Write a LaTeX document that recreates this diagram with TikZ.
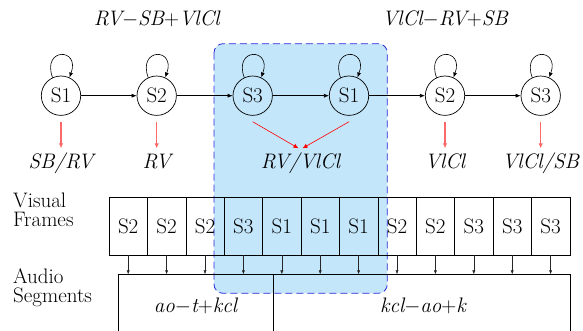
\documentclass[tikz,border=0pt]{standalone}
\usetikzlibrary{arrows.meta}
\definecolor{boxblue}{HTML}{C4E6FB}
\definecolor{dashblue}{HTML}{2A2AD8}
\definecolor{softred}{HTML}{FF6868}
\tikzset{
  state/.style={circle, draw, line width=0.7pt, minimum size=39.4pt, inner sep=0pt,
    font=\fontsize{21}{21}\selectfont},
  arr/.style={-{Latex[length=5pt,width=4pt]}, line width=0.6pt},
  looparr/.style={-{Latex[length=5pt,width=4pt]}, line width=0.6pt},
  redarr/.style={-{Latex[length=5pt,width=4.5pt]}, line width=1.1pt, softred},
  redthin/.style={-{Latex[length=5pt,width=4.5pt]}, line width=0.6pt, red},
  lab/.style={font=\fontsize{21}{21}\selectfont\itshape, inner sep=0pt,
    text height=16pt, text depth=5pt, outer sep=4pt, anchor=base},
  framebox/.style={draw, line width=0.6pt, minimum width=38.4pt, minimum height=57.7pt,
    inner sep=0pt, font=\fontsize{21}{21}\selectfont},
  segbox/.style={draw, line width=0.6pt, anchor=north west, minimum height=80pt, inner sep=0pt},
  farr/.style={-{Latex[length=4pt,width=3.2pt]}, line width=0.5pt, black!85},
  side/.style={font=\fontsize{21}{19.5}\selectfont, align=left, inner sep=0pt, anchor=base west},
  hilite/.style={fill=boxblue, draw=dashblue, line width=0.8pt, dash pattern=on 7pt off 4pt,
    rounded corners=9pt}
}
\begin{document}
\begin{tikzpicture}[x=1pt,y=1pt]
\useasboundingbox (0,0) rectangle (583,-331);
\clip (0,0) rectangle (583,-331);

% highlighted region
\path[hilite] (214,-43.7) rectangle (387.3,-293.3);

% top labels
\node[lab] (t1) at (156.7,-26) {RV$-$SB$+$VlCl};
\node[lab] (t2) at (445,-26) {VlCl$-$RV$+$SB};

% states
\node[state] (c1) at (61,-95.7) {S1};
\node[state] (c2) at (156.7,-95.7) {S2};
\node[state] (c3) at (252.7,-95.7) {S3};
\node[state] (c4) at (349,-95.7) {S1};
\node[state] (c5) at (445,-95.7) {S2};
\node[state] (c6) at (540.7,-95.7) {S3};

\foreach \c in {c1,c2,c3,c4,c5,c6}
  \draw[looparr] (\c.115) .. controls +(110:32) and +(70:32) .. (\c.65);

\draw[arr] (c1) -- (c2);
\draw[arr] (c2) -- (c3);
\draw[arr] (c3) -- (c4);
\draw[arr] (c4) -- (c5);
\draw[arr] (c5) -- (c6);

% emission labels
\node[lab] (l1) at (61,-168.3) {SB/RV};
\node[lab] (l2) at (156.7,-168.3) {RV};
\node[lab] (l3) at (300.5,-168.3) {RV/VlCl};
\node[lab] (l5) at (445,-168.3) {VlCl};
\node[lab] (l6) at (540.7,-168.3) {VlCl/SB};

\draw[redarr] ([yshift=-6pt]c1.south) -- (l1.north);
\draw[redarr] ([yshift=-6pt]c2.south) -- (l2.north);
\draw[redthin] ([yshift=-6pt]c3.south) -- ([xshift=-2pt]l3.north);
\draw[redthin] ([yshift=-6pt]c4.south) -- ([xshift=2pt]l3.north);
\draw[redarr] ([yshift=-6pt]c5.south) -- (l5.north);
\draw[redarr] ([yshift=-6pt]c6.south) -- (l6.north);

% side captions
\node[side] (vf) at (13,-226.7) {Visual\\Frames};
\node[side] (as) at (13,-302.7) {Audio\\Segments};

% frames
\foreach \t [count=\i] in {S2,S2,S2,S3,S1,S1,S1,S2,S2,S3,S3,S3}
  \node[framebox] (f\i) at ({109+38.4*(\i-0.5)},-226.15) {\t};

% audio segments
\node[segbox, minimum width=154.4pt] (a1) at (118.3,-274.3) {};
\node[segbox, minimum width=297pt] (a2) at (272.7,-274.3) {};
\node[lab] (s1) at (195.5,-312.3) {ao$-$t$+$kcl};
\node[lab] (s2) at (423,-312.3) {kcl$-$ao$+$k};

\foreach \i in {1,...,12}
  \draw[farr] (f\i.south) -- (f\i.south |- a1.north);
\end{tikzpicture}
\end{document}
